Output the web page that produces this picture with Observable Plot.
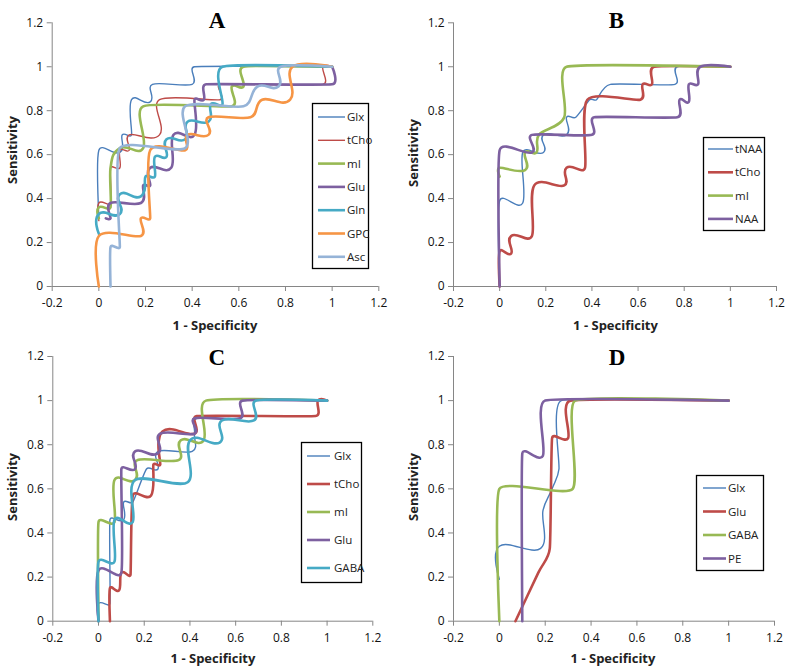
<!DOCTYPE html>
<html><head><meta charset="utf-8">
<script src="https://cdn.jsdelivr.net/npm/d3@7"></script>
<script src="https://cdn.jsdelivr.net/npm/@observablehq/plot@0.6"></script>
<style>
body{margin:0;background:#fff;}
#wrap{position:relative;width:787px;height:671px;overflow:hidden;background:#fff;}
.panel{position:absolute;}
#overlay{position:absolute;left:0;top:0;}
</style>
</head><body>
<div id="wrap"></div>
<script>
// ---------- data ----------
const xTicks = [-0.2, 0, 0.2, 0.4, 0.6, 0.8, 1, 1.2];
const yTicks = [0, 0.2, 0.4, 0.6, 0.8, 1, 1.2];
const panelTitles = ["A", "B", "C", "D"];
const xTitle = "1 - Specificity";
const yTitle = "Sensitivity";

// Panel A
const aNames = ["Glx", "tCho", "mI", "Glu", "Gln", "GPC", "Asc"];
const aGlx = [[0,0.31],[0,0.62],[0.09,0.61],[0.1,0.69],[0.14,0.69],[0.14,0.85],[0.22,0.84],[0.23,0.92],[0.4,0.92],[0.41,1],[1,1]];
const aTCho = [[0,0.3],[0,0.38],[0.05,0.38],[0.05,0.54],[0.09,0.54],[0.09,0.62],[0.13,0.62],[0.13,0.69],[0.26,0.69],[0.26,0.85],[0.52,0.85],[0.52,0.92],[0.96,0.92],[0.96,1],[1,1]];
const aMI = [[0,0.31],[0,0.36],[0.05,0.36],[0.05,0.54],[0.09,0.63],[0.19,0.63],[0.19,0.82],[0.57,0.82],[0.57,0.91],[0.62,0.91],[0.62,1],[1,1]];
const aGlu = [[0.03,0.31],[0.05,0.31],[0.05,0.38],[0.18,0.38],[0.19,0.46],[0.22,0.46],[0.22,0.54],[0.31,0.54],[0.32,0.69],[0.41,0.69],[0.41,0.85],[0.45,0.85],[0.46,0.92],[1,0.92],[1,1]];
const aGln = [[0,0.24],[0,0.33],[0.09,0.33],[0.09,0.42],[0.18,0.41],[0.2,0.5],[0.24,0.5],[0.24,0.59],[0.29,0.59],[0.29,0.67],[0.37,0.67],[0.38,0.75],[0.47,0.75],[0.48,0.83],[0.53,0.83],[0.53,1],[1,1]];
const aGPC = [[0,0],[0,0.23],[0.18,0.23],[0.18,0.31],[0.22,0.31],[0.22,0.62],[0.37,0.62],[0.38,0.69],[0.47,0.69],[0.47,0.77],[0.65,0.77],[0.7,0.85],[0.82,0.85],[0.83,1],[1,1]];
const aAsc = [[0.05,0],[0.05,0.18],[0.09,0.18],[0.09,0.63],[0.37,0.63],[0.37,0.82],[0.62,0.82],[0.68,0.91],[0.77,0.91],[0.78,1],[1,1]];

// Panel B
const bNames = ["tNAA", "tCho", "mI", "NAA"];
const bTNAA = [[0,0],[0,0.39],[0.1,0.38],[0.1,0.61],[0.19,0.61],[0.19,0.69],[0.29,0.69],[0.29,0.77],[0.33,0.77],[0.39,0.85],[0.42,0.85],[0.48,0.92],[0.76,0.92],[0.77,1],[1,1]];
const bTCho = [[0,0],[0,0.16],[0.05,0.15],[0.05,0.23],[0.14,0.23],[0.15,0.46],[0.28,0.46],[0.29,0.54],[0.37,0.54],[0.38,0.85],[0.61,0.85],[0.62,0.92],[0.66,0.92],[0.67,1],[1,1]];
const bMI = [[0,0.5],[0,0.54],[0.11,0.53],[0.11,0.61],[0.16,0.61],[0.17,0.69],[0.28,0.77],[0.29,1],[1,1]];
const bNAA = [[0,0],[0,0.62],[0.14,0.61],[0.14,0.69],[0.4,0.69],[0.41,0.77],[0.77,0.77],[0.78,0.85],[0.82,0.84],[0.82,0.92],[0.86,0.92],[0.87,1],[1,1]];

// Panel C
const cNames = ["Glx", "tCho", "mI", "Glu", "GABA"];
const cGlx = [[0,0],[0,0.08],[0.05,0.08],[0.05,0.46],[0.11,0.46],[0.11,0.54],[0.15,0.54],[0.21,0.69],[0.26,0.69],[0.26,0.77],[0.41,0.77],[0.42,0.85],[0.43,0.92],[0.62,0.92],[0.63,1],[1,1]];
const cTCho = [[0.05,0],[0.05,0.15],[0.09,0.14],[0.1,0.22],[0.14,0.21],[0.15,0.57],[0.23,0.57],[0.24,0.71],[0.27,0.71],[0.28,0.86],[0.42,0.85],[0.43,0.93],[0.95,0.93],[0.96,1],[1,1]];
const cMI = [[0,0],[0,0.45],[0.07,0.45],[0.07,0.64],[0.16,0.64],[0.17,0.73],[0.35,0.73],[0.36,0.82],[0.46,0.82],[0.47,1],[1,1]];
const cGlu = [[0,0],[0,0.23],[0.1,0.22],[0.1,0.69],[0.16,0.69],[0.16,0.77],[0.26,0.76],[0.27,0.85],[0.42,0.85],[0.42,0.92],[0.62,0.92],[0.63,1],[1,1]];
const cGABA = [[0,0],[0,0.27],[0.07,0.27],[0.07,0.46],[0.15,0.45],[0.16,0.64],[0.39,0.63],[0.4,0.82],[0.53,0.81],[0.54,0.91],[0.68,0.91],[0.69,1],[1,1]];

// Panel D
const dNames = ["Glx", "Glu", "GABA", "PE"];
const dGlx = [[0,0.19],[0,0.34],[0.18,0.33],[0.19,0.5],[0.23,0.6],[0.26,0.69],[0.27,1],[1,1]];
const dGlu = [[0.07,0],[0.17,0.22],[0.22,0.33],[0.23,0.83],[0.3,0.83],[0.31,1],[1,1]];
const dGABA = [[0,0],[0,0.6],[0.32,0.6],[0.33,1],[1,1]];
const dPE = [[0.1,0],[0.1,0.76],[0.19,0.75],[0.2,1],[1,1]];

// ---------- styles / layout ----------
const BLUE = "#4A7EBB", RED = "#BE4B48", GREEN = "#98B954", PURPLE = "#7D60A0",
      TEAL = "#46AAC5", ORANGE = "#F69545", LIGHTBLUE = "#95B3D7";
const THIN = 1.4, THICK = 2.6;

// Excel-like smoothed line: cubic Bezier whose control arms follow the
// neighbour tangent, limited by the shorter adjacent segment and a max length.
const SMOOTH_K = 0.42, MAX_ARM = 11;
function excelCurve(context) {
  let pts = [];
  return {
    areaStart() {}, areaEnd() {},
    lineStart() { pts = []; },
    point(x, y) { pts.push([+x, +y]); },
    lineEnd() {
      const n = pts.length;
      if (!n) return;
      context.moveTo(pts[0][0], pts[0][1]);
      if (n === 1) return;
      const dist = (a, b) => Math.hypot(b[0] - a[0], b[1] - a[1]);
      const arms = pts.map((p, i) => {
        if (i === 0 || i === n - 1) return [0, 0];
        const a = pts[i - 1], b = pts[i + 1];
        const tx = b[0] - a[0], ty = b[1] - a[1];
        const tl = Math.hypot(tx, ty);
        if (tl === 0) return [0, 0];
        const len = Math.min(MAX_ARM, SMOOTH_K * Math.min(dist(a, p), dist(p, b)));
        return [tx / tl * len, ty / tl * len];
      });
      for (let i = 0; i < n - 1; i++) {
        const p = pts[i], q = pts[i + 1];
        context.bezierCurveTo(p[0] + arms[i][0], p[1] + arms[i][1],
                              q[0] - arms[i + 1][0], q[1] - arms[i + 1][1], q[0], q[1]);
      }
    }
  };
}

const panels = [
  { left: 0, top: 0, w: 393, h: 335, ml: 51.7, mr: 14.7, mt: 22.3, mb: 49,
    series: [[aNames[0], aGlx, BLUE, THIN], [aNames[1], aTCho, RED, THIN], [aNames[2], aMI, GREEN, THICK],
             [aNames[3], aGlu, PURPLE, THICK], [aNames[4], aGln, TEAL, THICK], [aNames[5], aGPC, ORANGE, THICK],
             [aNames[6], aAsc, LIGHTBLUE, THICK]],
    title: [217, 28], xlab: [215, 330], ylab: [17, 150],
    legend: { x: 312, y: 103, w: 56, h: 165, first: 14, step: 23.3, sw0: 6, sw1: 33, tx: 35 } },
  { left: 393, top: 0, w: 394, h: 335, ml: 60, mr: 11, mt: 22.3, mb: 49,
    series: [[bNames[0], bTNAA, BLUE, THIN], [bNames[1], bTCho, RED, THICK], [bNames[2], bMI, GREEN, THICK],
             [bNames[3], bNAA, PURPLE, THICK]],
    title: [616.5, 28], xlab: [615.5, 330], ylab: [418, 153],
    legend: { x: 703, y: 137, w: 61, h: 93, first: 12, step: 23.3, sw0: 5, sw1: 30, tx: 32 } },
  { left: 0, top: 335, w: 393, h: 336, ml: 52.3, mr: 20.7, mt: 21, mb: 50.3,
    series: [[cNames[0], cGlx, BLUE, THIN], [cNames[1], cTCho, RED, THICK], [cNames[2], cMI, GREEN, THICK],
             [cNames[3], cGlu, PURPLE, THICK], [cNames[4], cGABA, TEAL, THICK]],
    title: [216.7, 365], xlab: [213, 663], ylab: [17, 487],
    legend: { x: 301, y: 442, w: 60, h: 140, first: 14, step: 28, sw0: 6, sw1: 29, tx: 33 } },
  { left: 393, top: 335, w: 394, h: 336, ml: 60, mr: 13, mt: 21, mb: 50.3,
    series: [[dNames[0], dGlx, BLUE, THIN], [dNames[1], dGlu, RED, THICK], [dNames[2], dGABA, GREEN, THICK],
             [dNames[3], dPE, PURPLE, THICK]],
    title: [617, 365], xlab: [613, 663], ylab: [418, 487],
    legend: { x: 696, y: 475, w: 67, h: 95, first: 13, step: 23.5, sw0: 7, sw1: 30, tx: 32 } }
];

const AXIS = "#868686";
const wrap = document.getElementById("wrap");
const fmt = d => String(d);

panels.forEach(p => {
  const chart = Plot.plot({
    width: p.w, height: p.h,
    marginLeft: p.ml, marginRight: p.mr, marginTop: p.mt, marginBottom: p.mb,
    x: { domain: [-0.2, 1.2] },
    y: { domain: [0, 1.2] },
    style: { fontFamily: "'Open Sans', sans-serif", fontSize: "12px", color: "#111", background: "transparent", overflow: "visible" },
    marks: [
      Plot.axisY({ ticks: yTicks, tickFormat: fmt, tickSize: 5, tickPadding: 4, stroke: AXIS, label: null, fontSize: 12 }),
      Plot.axisX({ ticks: xTicks, tickFormat: fmt, tickSize: 5, tickPadding: 7, stroke: AXIS, label: null, fontSize: 12 }),
      Plot.ruleX([-0.2], { stroke: AXIS, strokeWidth: 1 }),
      Plot.ruleY([0], { stroke: AXIS, strokeWidth: 1 }),
      ...p.series.map(([name, pts, color, sw]) =>
        Plot.line(pts, { x: d => d[0], y: d => d[1], stroke: color, strokeWidth: sw, curve: excelCurve, strokeLinejoin: "round", strokeLinecap: "round" }))
    ]
  });
  const div = document.createElement("div");
  div.className = "panel";
  div.style.left = p.left + "px";
  div.style.top = p.top + "px";
  div.appendChild(chart);
  wrap.appendChild(div);
});

// overlay: titles, axis titles, legends
const svg = d3.select(wrap).append("svg").attr("id", "overlay")
  .attr("width", 787).attr("height", 671);

panels.forEach((p, i) => {
  svg.append("text").attr("x", p.title[0]).attr("y", p.title[1])
    .attr("text-anchor", "middle").attr("font-family", "'Liberation Serif', 'Times New Roman', serif")
    .attr("font-weight", "bold").attr("font-size", 23).attr("fill", "#000").text(panelTitles[i]);
  svg.append("text").attr("x", p.xlab[0]).attr("y", p.xlab[1])
    .attr("text-anchor", "middle").attr("font-family", "'Open Sans', sans-serif")
    .attr("font-weight", "bold").attr("font-size", 13).attr("fill", "#222").text(xTitle);
  svg.append("text").attr("transform", `translate(${p.ylab[0]},${p.ylab[1]}) rotate(-90)`)
    .attr("text-anchor", "middle").attr("font-family", "'Open Sans', sans-serif")
    .attr("font-weight", "bold").attr("font-size", 13).attr("fill", "#222").text(yTitle);
  const L = p.legend;
  const g = svg.append("g").attr("transform", `translate(${L.x},${L.y})`);
  g.append("rect").attr("x", 0.5).attr("y", 0.5).attr("width", L.w).attr("height", L.h)
    .attr("fill", "#fff").attr("stroke", "#000").attr("stroke-width", 1.3);
  p.series.forEach(([name, pts, color, sw], k) => {
    const cy = L.first + k * L.step;
    g.append("line").attr("x1", L.sw0).attr("x2", L.sw1).attr("y1", cy).attr("y2", cy)
      .attr("stroke", color).attr("stroke-width", sw);
    g.append("text").attr("x", L.tx).attr("y", cy).attr("dy", "0.35em")
      .attr("font-family", "'Open Sans', sans-serif").attr("font-size", 11.5).attr("fill", "#222").text(name);
  });
});
</script>
</body></html>
